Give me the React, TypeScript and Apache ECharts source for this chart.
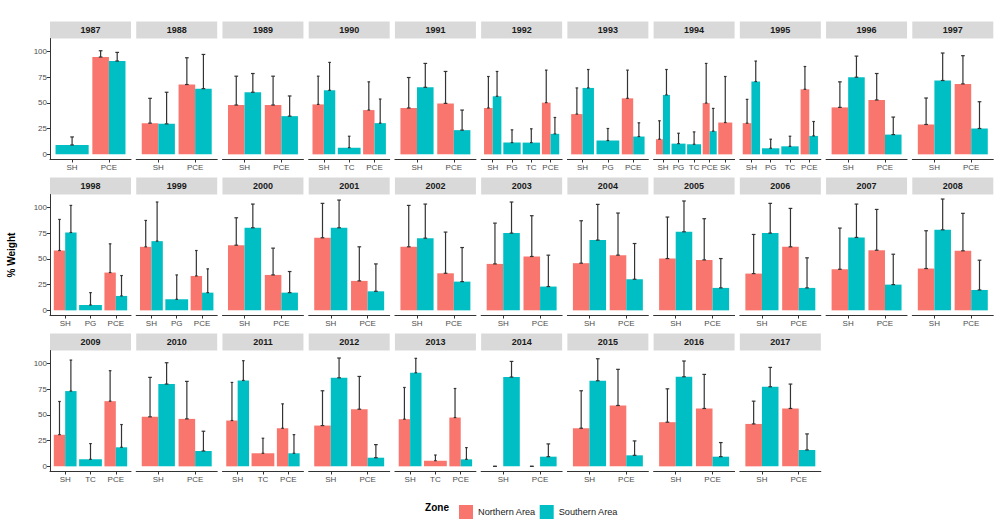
import React, { useEffect, useRef } from "react";
import * as echarts from "echarts";

const YEARS = [
  "1987", "1988", "1989", "1990", "1991", "1992", "1993", "1994", "1995", "1996", "1997",
  "1998", "1999", "2000", "2001", "2002", "2003", "2004", "2005", "2006", "2007", "2008",
  "2009", "2010", "2011", "2012", "2013", "2014", "2015", "2016", "2017",
];

const CATS: string[][] = [
  ["SH", "PCE"], ["SH", "PCE"], ["SH", "PCE"], ["SH", "TC", "PCE"], ["SH", "PCE"],
  ["SH", "PG", "TC", "PCE"], ["SH", "PG", "PCE"], ["SH", "PG", "TC", "PCE", "SK"],
  ["SH", "PG", "TC", "PCE"], ["SH", "PCE"], ["SH", "PCE"],
  ["SH", "PG", "PCE"], ["SH", "PG", "PCE"], ["SH", "PCE"], ["SH", "PCE"], ["SH", "PCE"],
  ["SH", "PCE"], ["SH", "PCE"], ["SH", "PCE"], ["SH", "PCE"], ["SH", "PCE"], ["SH", "PCE"],
  ["SH", "TC", "PCE"], ["SH", "PCE"], ["SH", "TC", "PCE"], ["SH", "PCE"], ["SH", "TC", "PCE"],
  ["SH", "PCE"], ["SH", "PCE"], ["SH", "PCE"], ["SH", "PCE"],
];

const NORTH_MEAN: (number | null)[][] = [
  [null, 94.5], [30.3, 67.8], [47.9, 47.9], [48.5, null, 43.0], [45.0, 49.5],
  [45.0, null, null, 50.2], [39.1, null, 54.4], [14.7, null, null, 49.8, 30.9],
  [30.3, null, null, 63.2], [45.6, 52.8], [29.0, 68.4],
  [58.1, null, 36.7], [61.7, null, 33.4], [63.3, 34.4], [70.5, 28.6], [61.7, 36.0],
  [45.1, 52.3], [45.8, 53.6], [50.3, 49.0], [35.7, 61.7], [39.9, 58.4], [40.6, 57.8],
  [30.8, null, 63.3], [48.1, 46.1], [44.5, 12.7, 37.0], [39.6, 55.5], [45.8, 5.5, 47.4],
  [0, 0], [37.0, 59.1], [42.9, 56.2], [41.2, 56.2],
];

const NORTH_SD: (number | null)[][] = [
  [null, 6.1], [24.1, 26.0], [28.0, 28.0], [27.4, null, 27.4], [29.6, 31.0],
  [30.6, null, null, 31.6], [25.4, null, 27.4], [17.9, null, null, 38.5, 44.7],
  [23.1, null, null, 22.1], [24.8, 25.7], [25.7, 27.4],
  [30.2, null, 27.9], [25.6, null, 24.7], [26.6, 26.0], [33.4, 33.1], [40.2, 40.0],
  [39.6, 39.6], [41.2, 40.9], [40.3, 40.0], [38.0, 37.3], [40.0, 39.6], [36.7, 36.4],
  [32.2, null, 29.6], [38.3, 36.4], [37.0, 14.6, 23.7], [33.8, 31.8], [30.8, 5.5, 28.2],
  [0, 0], [36.4, 35.1], [32.4, 33.1], [22.1, 23.7],
];

const SOUTH_MEAN: (number | null)[][] = [
  [9.1, 90.6], [29.6, 63.8], [60.3, 37.1], [62.2, 6.5, 30.3], [65.1, 23.5],
  [56.4, 11.4, 11.4, 19.9], [64.5, 13.4, 17.3], [57.7, 10.4, 9.8, 22.5, null],
  [70.7, 5.9, 7.8, 17.9], [74.9, 19.2], [71.7, 25.1],
  [75.6, 5.2, 14.0], [67.2, 10.7, 17.2], [80.2, 17.2], [80.2, 18.5], [70.1, 27.9],
  [75.0, 23.1], [68.2, 30.2], [76.3, 21.8], [75.0, 21.8], [70.8, 25.0], [78.2, 19.8],
  [73.1, 6.8, 18.5], [79.9, 14.9], [83.4, null, 12.7], [86.0, 8.4], [90.9, null, 6.8],
  [86.7, 9.4], [83.1, 10.7], [87.0, 9.4], [77.3, 15.9],
];

const SOUTH_SD: (number | null)[][] = [
  [7.8, 8.4], [30.7, 33.2], [18.2, 19.6], [27.1, 11.1, 23.4], [23.2, 19.5],
  [24.1, 12.4, 13.4, 15.9], [17.9, 11.7, 13.3], [24.7, 10.1, 12.0, 22.1, null],
  [19.9, 8.8, 9.8, 14.0], [20.5, 17.0], [26.7, 26.0],
  [26.3, 12.0, 19.8], [38.0, 23.7, 23.1], [23.0, 20.5], [26.9, 26.6], [33.1, 33.1],
  [30.2, 30.5], [34.7, 34.7], [29.9, 28.5], [28.9, 29.2], [32.4, 29.5], [29.9, 28.9],
  [30.1, 15.3, 22.1], [20.7, 19.2], [19.2, null, 18.1], [19.2, 12.7], [14.0, null, 11.4],
  [15.2, 12.4], [21.4, 14.0], [15.3, 13.7], [18.8, 15.6],
];

const ZONES = ["Northern Area", "Southern Area"];
const ZONE_COLORS = ["#F8766D", "#00BFC4"];
const Y_TICKS = [0, 25, 50, 75, 100];

const FONT = "'Liberation Sans', Arial, Helvetica, sans-serif";

function buildOption() {
  const N_COLS = 11;
  const COL_LEFT = 50;
  const COL_STEP = 86.23;
  const PANEL_W = 81;
  const ROW_TOP = 38.5;
  const ROW_STEP = 156;
  const PANEL_H = 121;
  const STRIP_H = 17;

  const grids: any[] = [];
  const xAxes: any[] = [];
  const yAxes: any[] = [];
  const series: any[] = [];
  const graphics: any[] = [];

  YEARS.forEach((year, i) => {
    const row = Math.floor(i / N_COLS);
    const col = i % N_COLS;
    const left = COL_LEFT + col * COL_STEP;
    const top = ROW_TOP + row * ROW_STEP;
    const cats = CATS[i];
    const n = cats.length;

    grids.push({ left, top, width: PANEL_W, height: PANEL_H, containLabel: false });

    const ticks = cats.map((_, k) => k + 1);
    xAxes.push({
      type: "value",
      gridIndex: i,
      min: 0.4,
      max: n + 0.6,
      splitLine: { show: false },
      axisLine: { show: true, onZero: false, lineStyle: { color: "#333333", width: 1 } },
      axisTick: { show: true, length: 3, customValues: ticks, lineStyle: { color: "#333333" } },
      axisLabel: {
        show: true,
        customValues: ticks,
        margin: 4,
        fontSize: 8,
        color: "#4D4D4D",
        fontFamily: FONT,
        formatter: (v: number) => cats[Math.round(v) - 1] ?? "",
      },
    });

    yAxes.push({
      type: "value",
      gridIndex: i,
      min: -5,
      max: 112.5,
      show: col === 0,
      splitLine: { show: false },
      axisLine: { show: true, onZero: false, lineStyle: { color: "#333333", width: 1 } },
      axisTick: { show: true, length: 3, customValues: Y_TICKS, lineStyle: { color: "#333333" } },
      axisLabel: {
        show: true,
        customValues: Y_TICKS,
        margin: 3,
        fontSize: 8,
        color: "#4D4D4D",
        fontFamily: FONT,
      },
    });

    const data: number[][] = [];
    cats.forEach((_, k) => {
      const nm = NORTH_MEAN[i][k];
      const sm = SOUTH_MEAN[i][k];
      const cnt = (nm !== null ? 1 : 0) + (sm !== null ? 1 : 0);
      if (nm !== null) data.push([k + 1, nm, NORTH_SD[i][k] ?? 0, 0, cnt]);
      if (sm !== null) data.push([k + 1, sm, SOUTH_SD[i][k] ?? 0, 1, cnt]);
    });

    series.push({
      type: "custom",
      name: "facet" + year,
      xAxisIndex: i,
      yAxisIndex: i,
      dimensions: ["x", "mean", "sd", "zone", "count"],
      encode: { x: 0, y: 1 },
      data,
      silent: true,
      renderItem: (params: any, api: any) => {
        const x = api.value(0);
        const v = api.value(1);
        const sd = api.value(2);
        const code = api.value(3);
        const cnt = api.value(4);
        const unit = api.size([1, 0])[0];
        const w = cnt === 2 ? unit * 0.45 : unit * 0.9;
        const off = cnt === 2 ? (code === 0 ? -0.225 : 0.225) * unit : 0;
        const base = api.coord([x, 0]);
        const topP = api.coord([x, v]);
        const up = api.coord([x, v + sd]);
        const cx = base[0] + off;
        const cap = Math.max(unit * 0.1, 2.6) / 2;
        const stroke = { stroke: "#333333", lineWidth: 1.2 };
        return {
          type: "group",
          children: [
            {
              type: "rect",
              shape: { x: cx - w / 2, y: topP[1], width: w, height: base[1] - topP[1] },
              style: { fill: ZONE_COLORS[code] },
            },
            { type: "line", shape: { x1: cx, y1: topP[1], x2: cx, y2: up[1] }, style: stroke },
            { type: "line", shape: { x1: cx - cap, y1: topP[1], x2: cx + cap, y2: topP[1] }, style: stroke },
            { type: "line", shape: { x1: cx - cap, y1: up[1], x2: cx + cap, y2: up[1] }, style: stroke },
          ],
        };
      },
    });

    graphics.push({
      type: "rect",
      shape: { x: left, y: top - STRIP_H, width: PANEL_W, height: STRIP_H },
      style: { fill: "#D9D9D9" },
      silent: true,
    });
    graphics.push({
      type: "text",
      x: left + PANEL_W / 2,
      y: top - STRIP_H / 2,
      style: {
        text: year,
        align: "center",
        verticalAlign: "middle",
        fontFamily: FONT,
        fontWeight: "bold",
        fontSize: 9,
        fill: "#1A1A1A",
      },
      silent: true,
    });
  });

  ZONES.forEach((z, k) => {
    series.push({
      type: "bar",
      name: z,
      xAxisIndex: 0,
      yAxisIndex: 0,
      data: [],
      itemStyle: { color: ZONE_COLORS[k] },
    });
  });

  graphics.push({
    type: "text",
    x: 11,
    y: 255,
    rotation: Math.PI / 2,
    style: {
      text: "% Weight",
      align: "center",
      verticalAlign: "middle",
      fontFamily: FONT,
      fontWeight: "bold",
      fontSize: 10,
      fill: "#000000",
    },
    silent: true,
  });
  graphics.push({
    type: "text",
    x: 437,
    y: 507,
    style: {
      text: "Zone",
      align: "center",
      verticalAlign: "middle",
      fontFamily: FONT,
      fontWeight: "bold",
      fontSize: 10,
      fill: "#000000",
    },
    silent: true,
  });

  return {
    animation: false,
    backgroundColor: "#FFFFFF",
    grid: grids,
    xAxis: xAxes,
    yAxis: yAxes,
    series,
    graphic: graphics,
    legend: {
      data: ZONES,
      left: 454,
      top: 500,
      icon: "rect",
      itemWidth: 14,
      itemHeight: 14,
      itemGap: 4,
      selectedMode: false,
      textStyle: { fontSize: 9.2, color: "#1A1A1A", fontFamily: FONT },
    },
  };
}

export default function App() {
  const ref = useRef<HTMLDivElement>(null);
  useEffect(() => {
    if (!ref.current) return;
    const chart = echarts.init(ref.current, undefined, { renderer: "svg" });
    chart.setOption(buildOption());
    return () => chart.dispose();
  }, []);
  return (
    <div
      ref={ref}
      style={{ position: "absolute", left: 0, top: 0, width: 998, height: 527, background: "#fff" }}
    />
  );
}
